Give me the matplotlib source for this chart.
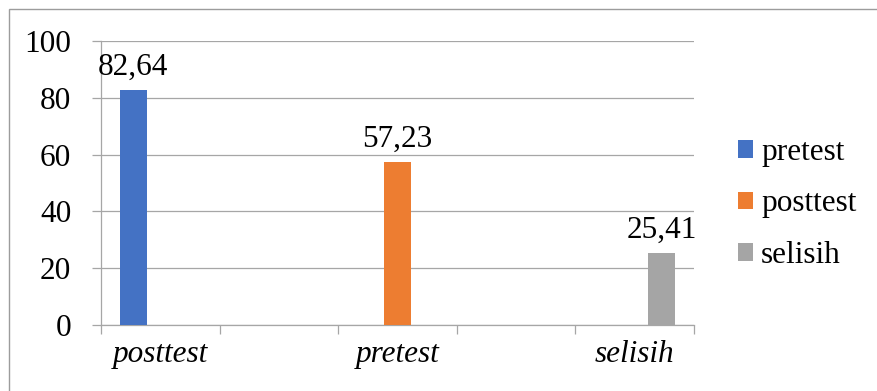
import numpy as np
import matplotlib
matplotlib.use("Agg")
import matplotlib.pyplot as plt
from matplotlib.patches import Rectangle, Patch

plt.rcParams["font.family"] = ["Liberation Serif", "DejaVu Serif"]

# ----------------------------------------
# Data (blank slots between categories are kept empty)
# ----------------------------------------
categories = ["posttest", "", "pretest", "", "selisih"]
series_names = ["pretest", "posttest", "selisih"]
pretest_vals = [82.64, np.nan, np.nan, np.nan, np.nan]
posttest_vals = [np.nan, np.nan, 57.23, np.nan, np.nan]
selisih_vals = [np.nan, np.nan, np.nan, np.nan, 25.41]
y_ticks = [0, 20, 40, 60, 80, 100]

colors = ["#4472C4", "#ED7D31", "#A5A5A5"]
grid_col = "#A6A6A6"
fs = 22.5

W, H = 877, 391
fig = plt.figure(figsize=(W / 100, H / 100), dpi=100)
ax = fig.add_axes([101 / W, 1 - 325 / H, (694 - 101) / W, (325 - 41) / H])

x = np.arange(len(categories))
width = 0.228
offsets = [-width, 0, width]
all_vals = [pretest_vals, posttest_vals, selisih_vals]

for vals, off, col in zip(all_vals, offsets, colors):
    ax.bar(x + off, vals, width=width, color=col, zorder=3)
    for xi, v in zip(x, vals):
        if np.isnan(v):
            continue
        ax.annotate(f"{v:.2f}".replace(".", ","), (xi + off, v),
                    xytext=(0, 6), textcoords="offset points",
                    ha="center", va="bottom", fontsize=fs)

# axes and gridlines
ax.set_xlim(-0.5, len(categories) - 0.5)
ax.set_ylim(0, 100)
ax.set_yticks(y_ticks)
ax.yaxis.grid(True, color=grid_col, linewidth=0.9, zorder=0)
for s in ["top", "right"]:
    ax.spines[s].set_visible(False)
for s in ["left", "bottom"]:
    ax.spines[s].set_color(grid_col)
    ax.spines[s].set_linewidth(0.9)

ax.set_xticks(np.arange(-0.5, len(categories), 1.0))
ax.set_xticklabels([])
ax.set_xticks(x, minor=True)
ax.set_xticklabels(categories, minor=True, fontstyle="italic", fontsize=fs)
ax.tick_params(axis="x", which="major", length=6.5, color=grid_col, width=0.9)
ax.tick_params(axis="x", which="minor", length=0, pad=11)
ax.tick_params(axis="y", length=6.5, color=grid_col, width=0.9,
               labelsize=fs, pad=15)

# legend
handles = [Patch(facecolor=c, edgecolor="none") for c in colors]
fig.legend(handles, series_names, loc="center left",
           bbox_to_anchor=(738 / W, 1 - 204 / H), frameon=False,
           fontsize=fs, handlelength=0.48, handleheight=0.48,
           handletextpad=0.26, labelspacing=0.72, borderpad=0,
           borderaxespad=0)

# outer border of the chart area
fig.patches.append(Rectangle((9 / W, -0.05), 1.0, 1 - 9 / H + 0.05,
                             transform=fig.transFigure, fill=False,
                             edgecolor="#9C9C9C", linewidth=1.0))

fig.savefig("out.png", dpi=100)
